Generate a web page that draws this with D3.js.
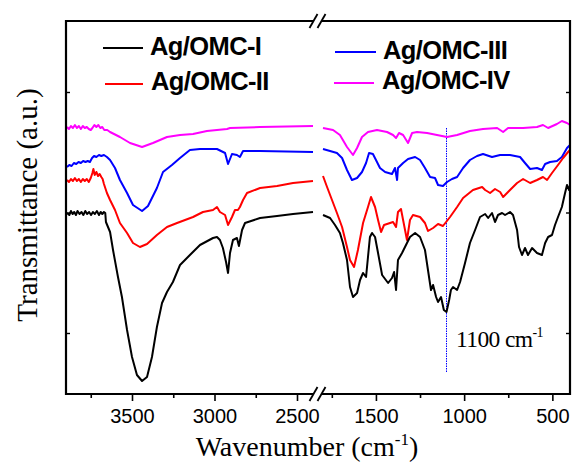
<!DOCTYPE html>
<html>
<head>
<meta charset="utf-8">
<script src="https://cdn.jsdelivr.net/npm/d3@7/dist/d3.min.js"></script>
<style>
  html, body { margin: 0; padding: 0; background: #fff; }
  svg { display: block; }
</style>
</head>
<body>
<script>
// FTIR spectra of Ag/OMC samples, broken wavenumber axis (3900-2400 | 1800-400 cm-1).
// Transmittance in arbitrary units, curves offset vertically.

const sampleNames = ["Ag/OMC-I", "Ag/OMC-II", "Ag/OMC-III", "Ag/OMC-IV"];
const sampleColors = ["#000000", "#ff0000", "#0000ff", "#ff00ff"];

const highTicks = [3500, 3000, 2500];
const highMinor = [3750, 3250, 2750];
const lowTicks = [1500, 1000, 500];
const lowMinor = [1750, 1250, 750];
const yTicks = [61, 181.5, 302];
const markWn = 1100;

// [wavenumber, transmittance]
const omc1High = [[3894,181],[3880,179],[3870,183],[3860,180],[3850,182],[3840,179],[3830,183],[3818,180],[3806,182],[3795,179],[3783,183],[3772,180],[3760,182],[3748,179],[3737,182],[3725,180],[3713,183],[3700,179],[3690,182],[3680,180],[3670,182],[3662,181],[3658,172],[3633,162],[3615,144],[3585,117],[3561,97],[3530,64],[3500,37],[3470,19],[3439,13],[3409,17],[3379,37],[3349,67],[3318,91],[3288,102],[3252,112],[3209,129],[3149,139],[3088,149],[3009,156],[2985,157],[2967,154],[2949,146],[2930,132],[2918,121],[2906,141],[2888,154],[2864,156],[2852,148],[2833,164],[2815,171],[2724,176],[2621,178],[2524,180],[2403,182]];
const omc2High = [[3894,214],[3882,212],[3870,215],[3858,213],[3846,216],[3834,213],[3822,215],[3810,212],[3798,215],[3786,213],[3774,215],[3762,212],[3750,216],[3740,221],[3734,225],[3726,219],[3716,222],[3706,218],[3696,220],[3686,217],[3678,215],[3670,210],[3652,201],[3633,194],[3603,184],[3573,171],[3530,161],[3494,151],[3452,147],[3409,150],[3349,159],[3288,167],[3227,171],[3130,177],[3070,182],[3009,184],[2985,187],[2967,182],[2936,179],[2918,169],[2894,177],[2876,184],[2858,184],[2846,187],[2827,194],[2803,201],[2724,206],[2621,208],[2524,211],[2403,213]];
const omc3High = [[3894,227],[3880,229],[3866,228],[3852,231],[3838,230],[3824,232],[3810,231],[3796,233],[3782,232],[3768,233],[3755,232],[3742,236],[3730,238],[3716,237],[3700,239],[3686,238],[3670,239],[3652,237],[3633,234],[3603,226],[3573,214],[3530,201],[3494,189],[3439,183],[3403,188],[3349,206],[3312,222],[3258,229],[3209,236],[3149,244],[3088,245],[2985,245],[2936,241],[2918,230],[2894,240],[2864,239],[2846,237],[2827,243],[2724,243],[2403,242]];
const omc4High = [[3894,267],[3882,265],[3870,268],[3858,266],[3846,269],[3834,266],[3822,268],[3810,265],[3798,268],[3786,266],[3774,267],[3762,265],[3750,264],[3740,266],[3728,269],[3716,267],[3704,269],[3692,266],[3680,267],[3668,264],[3650,264],[3633,262],[3573,257],[3512,251],[3439,247],[3373,251],[3288,257],[3209,259],[3130,260],[3046,263],[2924,265],[2906,266],[2724,267],[2403,268]];

const omc1Low = [[1800,179],[1760,176],[1732,169],[1704,161],[1687,151],[1664,134],[1647,107],[1630,97],[1607,101],[1590,114],[1573,121],[1556,117],[1545,137],[1534,157],[1522,161],[1505,157],[1488,141],[1465,119],[1431,111],[1409,116],[1397,122],[1386,104],[1375,134],[1352,141],[1324,151],[1307,157],[1278,161],[1250,157],[1222,144],[1205,124],[1188,104],[1176,109],[1159,97],[1148,92],[1131,97],[1115,84],[1100,82],[1085,94],[1075,104],[1063,107],[1040,104],[1023,112],[995,131],[967,151],[938,164],[910,177],[881,180],[864,176],[842,181],[825,172],[808,179],[785,181],[768,179],[740,182],[723,179],[700,164],[689,147],[672,139],[655,146],[638,139],[615,146],[587,141],[559,139],[541,151],[524,157],[502,159],[485,169],[468,177],[446,187],[428,201],[417,209],[405,204],[400,208]];
const omc2Low = [[1800,218],[1777,207],[1749,194],[1721,181],[1692,167],[1664,147],[1647,134],[1624,127],[1602,144],[1573,171],[1545,187],[1528,197],[1505,187],[1488,174],[1471,162],[1454,169],[1420,171],[1403,172],[1386,167],[1375,182],[1358,185],[1346,174],[1324,154],[1307,174],[1290,179],[1250,177],[1222,171],[1205,163],[1176,166],[1148,170],[1120,168],[1080,177],[1040,187],[1006,196],[950,204],[898,207],[881,204],[853,201],[825,205],[796,202],[779,197],[740,204],[700,211],[666,215],[626,211],[587,214],[553,217],[530,214],[502,221],[468,229],[439,236],[411,242],[400,244]];
const omc3Low = [[1800,245],[1760,243],[1721,241],[1692,236],[1664,224],[1636,214],[1607,216],[1579,222],[1556,231],[1539,241],[1517,240],[1494,232],[1477,226],[1448,222],[1409,220],[1392,226],[1380,214],[1375,226],[1346,231],[1318,235],[1278,237],[1250,234],[1222,226],[1193,217],[1165,216],[1148,209],[1120,208],[1097,212],[1069,215],[1040,217],[1006,226],[967,234],[927,238],[893,240],[842,237],[796,239],[740,239],[683,237],[655,231],[626,225],[587,226],[559,224],[541,230],[513,232],[474,233],[446,237],[417,246],[400,249]];
const omc4Low = [[1800,266],[1743,264],[1704,259],[1664,247],[1630,239],[1607,246],[1579,257],[1545,262],[1494,264],[1437,262],[1403,259],[1386,256],[1369,261],[1346,259],[1318,251],[1295,261],[1267,262],[1210,261],[1154,259],[1097,257],[1040,259],[967,263],[893,265],[813,266],[779,262],[751,266],[666,266],[587,267],[553,269],[524,266],[474,270],[446,273],[417,271],[400,269]];

const highSeries = [omc1High, omc2High, omc3High, omc4High];
const lowSeries = [omc1Low, omc2Low, omc3Low, omc4Low];

const W = 575, H = 471;
const frame = { left: 66, right: 570, top: 21, bottom: 394 };
const breakX = 317.5;

const svg = d3.select("body").append("svg").attr("width", W).attr("height", H);

const xHigh = d3.scaleLinear().domain([3900, 2400]).range([frame.left, 313.5]);
const xLow = d3.scaleLinear().domain([1800, 400]).range([323, frame.right]);
const y = d3.scaleLinear().domain([0, 373]).range([frame.bottom, frame.top]);

// spectra
const plot = svg.append("g");
function drawSeries(data, x, color) {
  const line = d3.line().x(d => x(d[0])).y(d => y(d[1]));
  plot.append("path").datum(data)
    .attr("fill", "none").attr("stroke", color)
    .attr("stroke-width", 2).attr("stroke-linejoin", "round")
    .attr("d", line);
}
// marker line at 1100 cm-1
plot.append("line")
  .attr("x1", xLow(markWn)).attr("x2", xLow(markWn))
  .attr("y1", y(266)).attr("y2", y(22))
  .attr("stroke", "#0000ff").attr("stroke-width", 1)
  .attr("stroke-dasharray", "1.5,1");
for (let i = sampleNames.length - 1; i >= 0; i--) {
  drawSeries(highSeries[i], xHigh, sampleColors[i]);
  drawSeries(lowSeries[i], xLow, sampleColors[i]);
}

// bottom axes
const tickFont = "'Liberation Sans', Arial, sans-serif";
function bottomAxis(scale, major, minor) {
  const gMaj = svg.append("g").attr("transform", `translate(0,${frame.bottom})`)
    .call(d3.axisBottom(scale).tickValues(major).tickSize(7).tickPadding(8).tickFormat(d3.format("d")));
  const gMin = svg.append("g").attr("transform", `translate(0,${frame.bottom})`)
    .call(d3.axisBottom(scale).tickValues(minor).tickSize(4).tickFormat(""));
  [gMaj, gMin].forEach(g => {
    g.select(".domain").remove();
    g.selectAll(".tick line").attr("stroke", "#000").attr("stroke-width", 1.6);
  });
  gMaj.selectAll(".tick text").attr("font-family", tickFont).attr("font-size", 20).attr("fill", "#000");
}
bottomAxis(xHigh, highTicks, highMinor);
bottomAxis(xLow, lowTicks, lowMinor);

// left / right ticks, pointing inward
const gL = svg.append("g").attr("transform", `translate(${frame.left},0)`)
  .call(d3.axisRight(y).tickValues(yTicks).tickSize(4).tickFormat(""));
const gR = svg.append("g").attr("transform", `translate(${frame.right},0)`)
  .call(d3.axisLeft(y).tickValues(yTicks).tickSize(4).tickFormat(""));
[gL, gR].forEach(g => {
  g.select(".domain").remove();
  g.selectAll(".tick line").attr("stroke", "#000").attr("stroke-width", 1.4);
});

// frame with axis break
const gap = 4;
const fr = svg.append("g").attr("stroke", "#000").attr("stroke-width", 2.2).attr("fill", "none");
fr.append("path").attr("d",
  `M${breakX - gap},${frame.top} H${frame.left} V${frame.bottom} H${breakX - gap}`);
fr.append("path").attr("d",
  `M${breakX + gap},${frame.top} H${frame.right} V${frame.bottom} H${breakX + gap}`);
[frame.top, frame.bottom].forEach(yy => {
  [-gap, gap].forEach(dx => {
    fr.append("line")
      .attr("x1", breakX + dx - 4).attr("y1", yy + 7)
      .attr("x2", breakX + dx + 4).attr("y2", yy - 7)
      .attr("stroke-width", 1.8);
  });
});

// axis titles
const serif = "'Liberation Serif', 'Times New Roman', serif";
const xt = svg.append("text")
  .attr("x", 307).attr("y", 456).attr("text-anchor", "middle")
  .attr("font-family", serif).attr("font-size", 28).attr("fill", "#000");
xt.append("tspan").text("Wavenumber (cm");
xt.append("tspan").attr("font-size", 17).attr("dy", -11).text("-1");
xt.append("tspan").attr("dy", 11).text(")");

svg.append("text")
  .attr("transform", "translate(37,205) rotate(-90)")
  .attr("text-anchor", "middle")
  .attr("font-family", serif).attr("font-size", 29).attr("fill", "#000")
  .text("Transmittance (a.u.)");

// annotation
const ann = svg.append("text")
  .attr("x", 456).attr("y", 347)
  .attr("font-family", serif).attr("font-size", 23.5).attr("letter-spacing", -0.6).attr("fill", "#000");
ann.append("tspan").text("1100 cm");
ann.append("tspan").attr("font-size", 14).attr("dy", -10).text("-1");

// legend
const legendPos = [
  { lx1: 103, lx2: 143, ly: 48, tx: 150, ty: 55 },
  { lx1: 105, lx2: 143, ly: 84, tx: 151, ty: 90 },
  { lx1: 335, lx2: 376, ly: 52, tx: 383, ty: 59 },
  { lx1: 334, lx2: 374, ly: 83, tx: 382, ty: 89 }
];
const lg = svg.append("g");
sampleNames.forEach((name, i) => {
  const p = legendPos[i];
  lg.append("line").attr("x1", p.lx1).attr("x2", p.lx2).attr("y1", p.ly).attr("y2", p.ly)
    .attr("stroke", sampleColors[i]).attr("stroke-width", 2);
  lg.append("text").attr("x", p.tx).attr("y", p.ty)
    .attr("font-family", tickFont).attr("font-weight", "bold")
    .attr("font-size", 25.5).attr("letter-spacing", -0.6).attr("fill", "#000")
    .text(name);
});
</script>
</body>
</html>
